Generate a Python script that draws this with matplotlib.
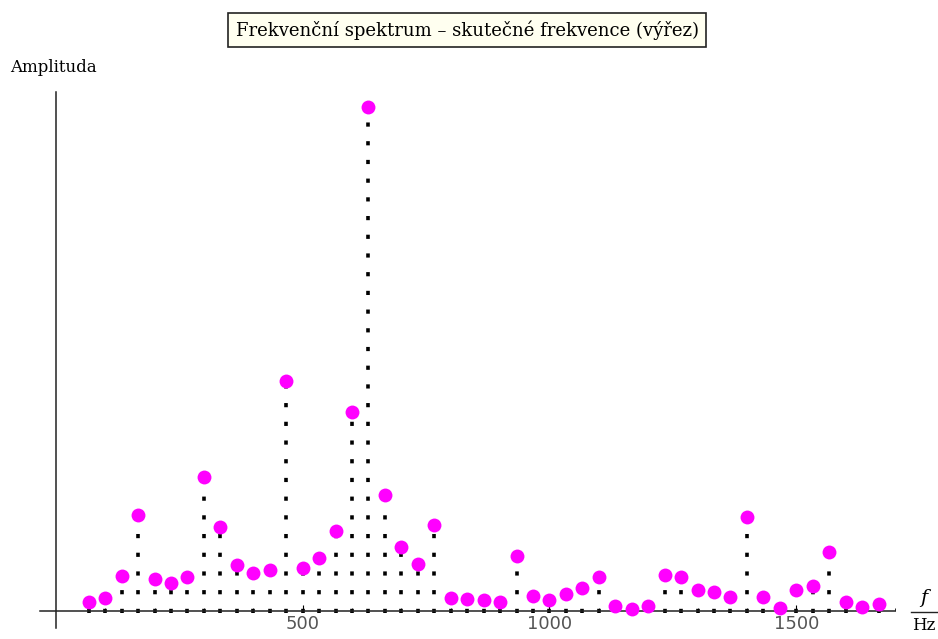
import numpy as np
import matplotlib
matplotlib.use("Agg")
import matplotlib.pyplot as plt
from matplotlib.lines import Line2D

# frequency bins (Hz) and amplitudes
freqs = [66.7, 100.0, 133.3, 166.7, 200.0, 233.3, 266.7, 300.0, 333.3, 366.7,
         400.0, 433.3, 466.7, 500.0, 533.3, 566.7, 600.0, 633.3, 666.7, 700.0,
         733.3, 766.7, 800.0, 833.3, 866.7, 900.0, 933.3, 966.7, 1000.0, 1033.3,
         1066.7, 1100.0, 1133.3, 1166.7, 1200.0, 1233.3, 1266.7, 1300.0, 1333.3, 1366.7,
         1400.0, 1433.3, 1466.7, 1500.0, 1533.3, 1566.7, 1600.0, 1633.3, 1666.7]
amps = [9, 13, 35, 96, 32, 28, 34, 134, 84, 46,
        38, 41, 230, 43, 53, 80, 199, 504, 116, 64,
        47, 86, 13, 12, 11, 9, 55, 15, 11, 17,
        23, 34, 5, 2, 5, 36, 34, 21, 19, 14,
        94, 14, 3, 21, 25, 59, 9, 4, 7]
xticks = [500, 1000, 1500]

fig = plt.figure(figsize=(9.38, 6.39), dpi=100)
ax = fig.add_axes([40/938, 11/639, 855/938, 536/639])

# dotted stems
ax.vlines(freqs, -2, amps, colors='black', linewidth=2.6,
          linestyles=[(0, (1.16, 4.02))], zorder=2)
ax.plot(freqs, amps, 'o', color='#ff00ff', markersize=10,
        markeredgewidth=0, zorder=3)

ax.set_xlim(-32, 1700)
ax.set_ylim(-17, 519)

for s in ['top', 'right']:
    ax.spines[s].set_visible(False)
ax.spines['bottom'].set_position(('data', 0))
ax.spines['left'].set_position(('data', 0))
for s in ['bottom', 'left']:
    ax.spines[s].set_color('#222222')
    ax.spines[s].set_linewidth(1.1)

ax.set_yticks([])
ax.set_xticks(xticks)
ax.set_xticklabels([str(t) for t in xticks])
ax.set_xticks(np.arange(100, 1800, 100), minor=True)
ax.tick_params(axis='x', which='major', direction='in', length=4, width=0.8,
               labelsize=13, labelcolor='#555555', pad=3)
ax.tick_params(axis='x', which='minor', direction='in', length=2, width=0.6)

serif = ['DejaVu Serif']

fig.text(467/938, 1 - 30/639, 'Frekvenční spektrum – skutečné frekvence (výřez)',
         ha='center', va='center', fontsize=13, family=serif,
         bbox=dict(boxstyle='square,pad=0.4', facecolor='#fffff0',
                   edgecolor='#222222', linewidth=1.2))

fig.text(10/938, 1 - 68/639, 'Amplituda', ha='left', va='center',
         fontsize=12, family=serif)

fig.text(924/938, 1 - 598/639, 'f', ha='center', va='center',
         fontsize=14, style='italic', family=serif)
fig.text(924/938, 1 - 626/639, 'Hz', ha='center', va='center',
         fontsize=12, family=serif)
fig.add_artist(Line2D([911/938, 937/938], [1 - 612/639, 1 - 612/639],
                      color='#222222', linewidth=1.0, transform=fig.transFigure))

fig.savefig('out.png', dpi=100)
